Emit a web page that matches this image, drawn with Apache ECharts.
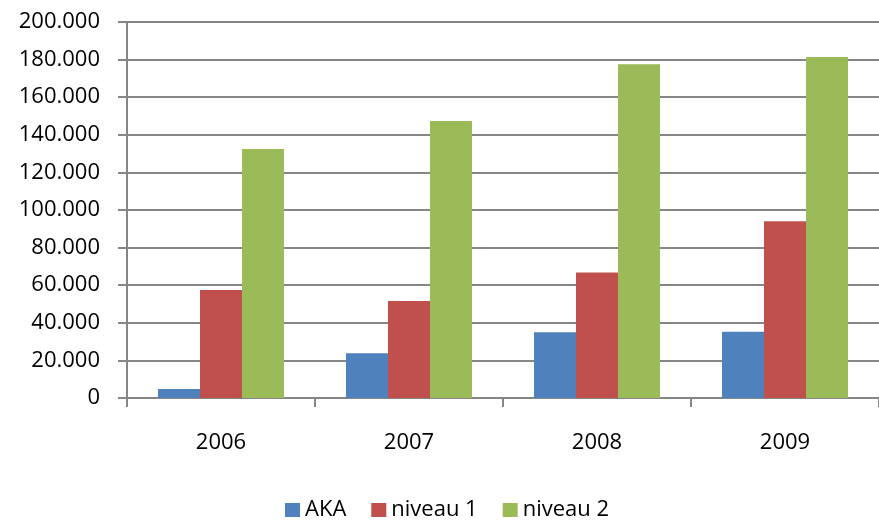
<!DOCTYPE html>
<html lang="en">
<head>
    <meta charset="UTF-8">
    <title>AKA niveau</title>
    <style>
        html, body { margin: 0; padding: 0; background: #fff; }
        .box { width: 879px; height: 521px; }
    </style>
    <script src="https://cdn.jsdelivr.net/npm/echarts@6/dist/echarts.min.js"></script>
</head>
<body>
    <div class="box"></div>
    <script>
        const years = ['2006', '2007', '2008', '2009'];
        const aka = [4800, 23800, 35000, 35300];
        const niveau1 = [57400, 51600, 66700, 94000];
        const niveau2 = [132400, 147300, 177500, 181400];

        const font = '"Open Sans", "Liberation Sans", sans-serif';
        const axisGray = '#868686';

        // 20000 -> "20.000"
        function fmt(v) {
            return String(v).replace(/\B(?=(\d{3})+(?!\d))/g, '.');
        }

        function bar(name, data, color) {
            return {
                name: name,
                type: 'bar',
                data: data,
                barWidth: 42,
                barGap: '0%',
                itemStyle: { color: color },
                emphasis: { disabled: true }
            };
        }

        const chart = echarts.init(document.querySelector('.box'));
        chart.setOption({
            animation: false,
            textStyle: { fontFamily: font },
            grid: { left: 127, top: 22, bottom: 123, right: -7, containLabel: false },
            legend: {
                top: 499,
                left: 285,
                padding: 0,
                icon: 'rect',
                itemWidth: 15,
                itemHeight: 14,
                itemGap: 25,
                textStyle: { fontSize: 22, color: '#000', fontFamily: font },
                data: ['AKA', 'niveau 1', 'niveau 2']
            },
            xAxis: {
                type: 'category',
                data: years,
                axisLine: { lineStyle: { color: axisGray, width: 2 } },
                axisTick: { show: true, length: 9, lineStyle: { color: axisGray, width: 2 } },
                axisLabel: { fontSize: 22, color: '#000', margin: 34 }
            },
            yAxis: {
                type: 'value',
                min: 0,
                max: 200000,
                interval: 20000,
                axisLine: { show: true, lineStyle: { color: axisGray, width: 2 } },
                axisTick: { show: true, length: 9, lineStyle: { color: axisGray, width: 2 } },
                splitLine: { lineStyle: { color: axisGray, width: 2 } },
                axisLabel: { fontSize: 22, color: '#000', margin: 27, formatter: fmt }
            },
            series: [
                bar('AKA', aka, '#4F81BD'),
                bar('niveau 1', niveau1, '#C0504D'),
                bar('niveau 2', niveau2, '#9BBB59')
            ]
        });
    </script>
</body>
</html>
